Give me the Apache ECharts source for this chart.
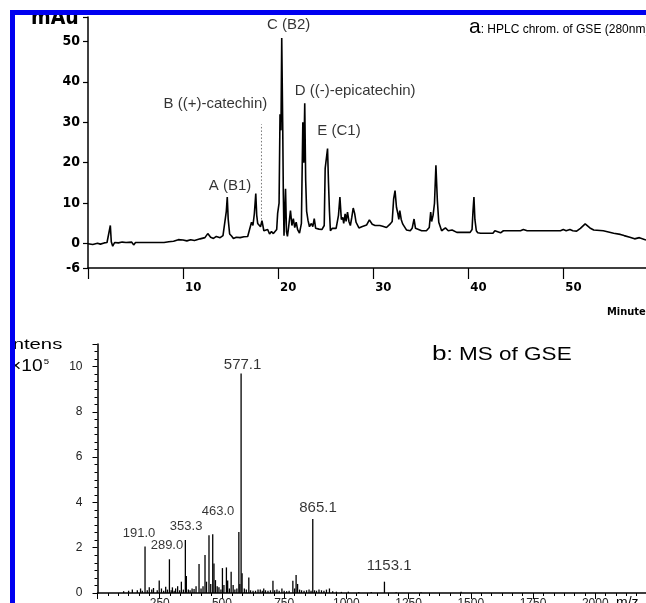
<!DOCTYPE html>
<html><head><meta charset="utf-8">
<script src="https://cdn.jsdelivr.net/npm/echarts@6/dist/echarts.min.js"></script>
<style>html,body{margin:0;padding:0;background:#fff}#c{width:646px;height:603px}</style>
</head><body><div id="c"></div>
<script>
// ---------- HPLC chromatogram (a) ----------
const hplcTime = [0,0.5,1.0,1.3,1.7,2.0,2.2,2.35,2.45,2.6,2.8,3.2,3.6,4.0,4.6,4.8,5.0,6.0,7.0,8.0,8.5,9.0,9.5,9.7,10.0,10.4,10.8,11.2,11.8,12.3,12.6,12.9,13.2,13.5,13.9,14.2,14.4,14.55,14.65,14.75,14.9,15.1,15.3,15.6,16.0,16.4,16.8,17.0,17.2,17.35,17.5,17.65,17.75,17.85,18.0,18.15,18.3,18.5,18.7,18.9,19.1,19.3,19.5,19.7,19.85,19.95,20.1,20.2,20.3,20.38,20.48,20.55,20.62,20.78,20.88,20.98,21.1,21.3,21.45,21.6,21.75,21.9,22.05,22.25,22.45,22.6,22.7,22.8,22.9,23.0,23.15,23.3,23.5,23.65,23.8,23.95,24.1,24.3,24.6,24.85,24.95,25.05,25.2,25.3,25.4,25.5,25.7,25.9,26.1,26.35,26.5,26.65,26.8,26.9,27.05,27.15,27.3,27.45,27.6,27.75,27.9,28.05,28.2,28.5,28.8,29.0,29.3,29.6,29.9,30.2,30.7,31.0,31.4,31.8,32.0,32.15,32.3,32.45,32.6,32.7,32.8,32.95,33.1,33.5,33.9,34.1,34.3,34.45,34.6,35.1,35.6,35.9,36.05,36.15,36.3,36.45,36.6,36.75,36.9,37.2,37.4,37.6,37.9,38.3,38.8,39.5,40.2,40.4,40.5,40.6,40.7,40.85,41.0,41.3,42.6,42.8,43.0,43.4,43.7,44.5,45.5,45.8,46.2,47.0,48.0,49.7,50.0,50.3,50.7,51.0,51.4,51.8,52.3,52.8,53.2,54.2,55.3,56.0,56.4,57.0,57.5,58.0,58.2,58.7];
const hplcAbs = [0,-0.2,0.1,-0.1,0.2,0.3,0.1,4.5,0.5,-0.6,0.3,0.2,0.4,0.3,0.4,-0.3,0.3,0.3,0.3,0.3,0.5,0.6,1.0,1.4,0.9,0.7,1.0,0.8,1.2,1.5,2.5,1.6,1.3,1.8,1.5,2.0,2.3,8.0,11.5,6.0,2.4,1.9,1.3,1.6,1.5,1.7,1.8,2.2,5.3,4.5,7.4,12.4,7.0,5.0,5.2,4.2,5.7,3.2,2.8,3.5,2.4,3.0,2.5,2.2,3.5,7.5,10.0,32.0,28.0,50.8,30.0,12.0,2.0,13.6,3.0,1.8,4.0,8.2,4.5,6.2,4.0,5.3,3.5,2.6,5.0,30.0,20.0,34.7,15.6,8.0,5.7,4.2,5.0,4.2,6.2,3.8,4.2,3.6,3.5,4.5,18.6,19.0,23.5,15.0,8.0,3.2,3.8,4.2,3.8,7.0,11.5,6.0,6.5,5.0,7.4,5.5,7.8,5.5,4.5,6.5,8.8,7.5,5.3,3.9,4.2,4.0,4.6,5.9,4.8,4.5,4.5,4.3,4.0,4.9,5.5,11.0,13.1,9.0,7.4,6.0,8.2,6.0,4.9,3.4,3.2,3.8,6.1,3.8,3.4,3.2,3.2,4.0,7.8,5.5,7.0,10.0,19.4,10.7,5.3,3.2,3.6,3.9,3.2,3.4,2.8,2.8,2.8,3.5,8.0,11.5,6.0,3.2,2.7,2.6,2.6,3.2,2.8,2.7,3.2,3.2,3.2,3.5,3.2,3.2,3.2,3.2,3.5,3.2,3.5,3.2,3.1,3.8,4.9,3.9,3.4,3.2,2.6,2.3,2.0,1.6,1.2,1.5,1.4,0.9];
// dotted (+)-catechin peak marker
const catechinTime = [18.25, 18.25];
const catechinAbs = [6, 29.5];
// peak labels (label centre in data units)
const hplcPeakNames = ['A (B1)', 'B ((+)-catechin)', 'C (B2)', 'D ((-)-epicatechin)', 'E (C1)'];
const hplcLabelTime = [14.95, 13.4, 21.1, 28.1, 26.4];
const hplcLabelAbs = [14.4, 34.5, 54.1, 37.7, 27.8];
const hplcYTicks = [-6, 0, 10, 20, 30, 40, 50];
const hplcXTicks = [10, 20, 30, 40, 50];

// ---------- MS spectrum (b) ----------
const msMz = [105,125,140,160,173,180,191,200,208,218,225,240,248,257,266,274,281,289,296,301,308,314,322,330,337,345,353,357,365,372,380,388,396,408,416,424,432,438,448,455,463,468,474,481,488,496,502,508,518,523,530,537,545,552,560,568,572,577,581,590,598,608,615,625,635,645,654,662,668,675,685,695,705,712,721,730,741,750,760,770,785,792,798,804,812,820,830,840,850,858,865,872,880,890,900,910,920,932,945,960,980,1008,1050,1100,1153,1200,1300,1461];
const msInt = [0.08,0.1,0.15,0.12,0.2,0.1,2.05,0.12,0.25,0.15,0.22,0.12,0.55,0.2,0.1,0.28,0.15,1.49,0.12,0.25,0.1,0.2,0.3,0.12,0.5,0.15,2.34,0.75,0.15,0.12,0.2,0.18,0.3,1.28,0.2,0.3,1.68,0.5,2.55,0.4,2.6,1.3,0.57,0.3,0.25,0.15,1.1,0.35,1.13,0.55,0.2,0.94,0.35,0.15,0.2,2.7,0.4,9.7,0.87,0.2,0.15,0.69,0.12,0.1,0.1,0.15,0.15,0.1,0.2,0.12,0.1,0.12,0.54,0.12,0.15,0.1,0.2,0.1,0.08,0.1,0.54,0.2,0.8,0.4,0.15,0.12,0.1,0.12,0.15,0.1,3.27,0.12,0.1,0.15,0.12,0.1,0.15,0.2,0.08,0.06,0.05,0.06,0.04,0.04,0.5,0.03,0.03,0.05];
const msLabelText = ['577.1', '865.1', '1153.1', '191.0', '289.0', '353.3', '463.0'];
const msLabelMz = [583, 886, 1172, 167, 279, 356, 484];
const msLabelInt = [10.07, 3.76, 1.19, 2.61, 2.12, 2.92, 3.62];
const msLabelBig = [true, true, true, false, false, false, false];
const msYTicks = [0, 2, 4, 6, 8, 10];

const chart = echarts.init(document.getElementById('c'), null, {renderer: 'canvas'});
const narrow = "'Liberation Sans Narrow','DejaVu Sans Condensed',sans-serif";
const sans = "'Liberation Sans',Arial,sans-serif";

const hplcLine = hplcTime.map((t, i) => [t, hplcAbs[i]]);
const catLine = catechinTime.map((t, i) => [t, catechinAbs[i]]);
const hplcLbl = hplcPeakNames.map((n, i) => ({value: [hplcLabelTime[i], hplcLabelAbs[i]], name: n}));
const msBars = msMz.map((m, i) => [m, msInt[i]]);
const msLbl = msLabelText.map((n, i) => ({
  value: [msLabelMz[i], msLabelInt[i]], name: n,
  label: {fontSize: msLabelBig[i] ? 15 : 13}
}));

chart.setOption({
  animation: false,
  backgroundColor: '#fff',
  grid: [
    {left: 88, right: 0, top: 17, height: 251, outerBoundsMode: 'none', containLabel: false},
    {left: 97.5, right: 0, top: 344, bottom: 10, outerBoundsMode: 'none', containLabel: false}
  ],
  xAxis: [
    {
      type: 'value', gridIndex: 0, min: 0, max: 58.7,
      axisLine: {onZero: false, lineStyle: {color: '#000', width: 1.5}},
      axisTick: {customValues: [0, 10, 20, 30, 40, 50], length: 11, lineStyle: {color: '#000', width: 1.2}},
      axisLabel: {customValues: hplcXTicks, align: 'left', margin: 13, padding: [0, 0, 0, 2],
        color: '#000', fontFamily: narrow, fontWeight: 'bold', fontSize: 13},
      splitLine: {show: false}
    },
    {
      type: 'value', gridIndex: 1, min: 0, max: 2204, interval: 250,
      axisLine: {onZero: false, lineStyle: {color: '#000', width: 1.5}},
      axisTick: {length: 6, lineStyle: {color: '#000'}},
      minorTick: {show: true, splitNumber: 6, length: 3, lineStyle: {color: '#000'}},
      axisLabel: {margin: 5, color: '#222', fontFamily: sans, fontSize: 12, showMaxLabel: false,
        formatter: v => (v === 0 || v % 250 !== 0 ? '' : String(v))},
      splitLine: {show: false}
    }
  ],
  yAxis: [
    {
      type: 'value', gridIndex: 0, min: -6, max: 56,
      axisLine: {show: true, onZero: false, lineStyle: {color: '#000', width: 1.5}},
      axisTick: {show: true, customValues: [-6, 0, 10, 20, 30, 40, 50, 56], length: 5, lineStyle: {color: '#000', width: 1.2}},
      axisLabel: {customValues: hplcYTicks, margin: 8, color: '#000', fontFamily: narrow, fontWeight: 'bold', fontSize: 14},
      splitLine: {show: false}
    },
    {
      type: 'value', gridIndex: 1, min: 0, max: 11, interval: 2,
      axisLine: {show: true, onZero: false, lineStyle: {color: '#000', width: 1.5}},
      axisTick: {show: true, length: 5, lineStyle: {color: '#000'}},
      minorTick: {show: true, splitNumber: 6, length: 3, lineStyle: {color: '#000'}},
      axisLabel: {customValues: msYTicks, margin: 15, color: '#222', fontFamily: sans, fontSize: 12},
      splitLine: {show: false}
    }
  ],
  series: [
    {type: 'line', xAxisIndex: 0, yAxisIndex: 0, data: hplcLine, symbol: 'none',
      lineStyle: {color: '#000', width: 1.6}, z: 3},
    {type: 'line', xAxisIndex: 0, yAxisIndex: 0, data: catLine, symbol: 'none',
      lineStyle: {color: '#777', width: 1, type: [1.5, 2]}, z: 2},
    {type: 'scatter', xAxisIndex: 0, yAxisIndex: 0, data: hplcLbl, symbolSize: 0,
      label: {show: true, position: 'inside', formatter: p => p.name, color: '#000', fontFamily: sans, fontSize: 15}},
    {type: 'bar', xAxisIndex: 1, yAxisIndex: 1, data: msBars, barWidth: 1.3,
      itemStyle: {color: '#000'}},
    {type: 'scatter', xAxisIndex: 1, yAxisIndex: 1, data: msLbl, symbolSize: 0,
      label: {show: true, position: 'inside', formatter: p => p.name, color: '#000', fontFamily: sans}}
  ],
  graphic: [
    {type: 'text', left: 31, top: 8, z: 50, style: {text: 'mAu', font: "bold 21px " + narrow, fill: '#000'}},
    {type: 'text', left: 607, top: 307, z: 50, style: {text: 'Minute', font: "bold 11px " + narrow, fill: '#000'}},
    {type: 'text', left: 469, top: 17, z: 50, style: {
      text: '{a|a}{t|: HPLC chrom. of GSE (280nm)}',
      rich: {a: {fontSize: 21, fontFamily: sans, fill: '#000'}, t: {fontSize: 12, fontFamily: sans, fill: '#000', padding: [4, 0, 0, 0]}}
    }},
    {type: 'text', left: 432, top: 344, z: 50, scaleX: 1.25, style: {
      text: '{a|b}{t|: MS of GSE}',
      rich: {a: {fontSize: 21, fontFamily: sans, fill: '#000'}, t: {fontSize: 18, fontFamily: sans, fill: '#000', padding: [2, 0, 0, 0]}}
    }},
    {type: 'text', left: 7, top: 338, z: 50, scaleX: 1.45, style: {text: 'Intens', font: "14px " + sans, fill: '#000'}},
    {type: 'text', left: 10, top: 358, z: 50, scaleX: 1.2, style: {
      text: '{a|×10}{s|5}',
      rich: {a: {fontSize: 16, fontFamily: sans, fill: '#000'}, s: {fontSize: 8, fontFamily: sans, fill: '#000', verticalAlign: 'top', padding: [0, 0, 9, 1]}}
    }},
    {type: 'text', left: 616, top: 596, z: 50, style: {text: 'm/z', font: "14px " + sans, fill: '#000'}},
    {type: 'rect', z: 100, shape: {x: 0, y: 0, width: 646, height: 10}, style: {fill: '#fff'}},
    {type: 'rect', z: 100, shape: {x: 0, y: 0, width: 10, height: 603}, style: {fill: '#fff'}},
    {type: 'rect', z: 101, shape: {x: 10, y: 10, width: 636, height: 5}, style: {fill: '#0000f0'}},
    {type: 'rect', z: 101, shape: {x: 10, y: 10, width: 5, height: 593}, style: {fill: '#0000f0'}}
  ]
});
</script></body></html>
